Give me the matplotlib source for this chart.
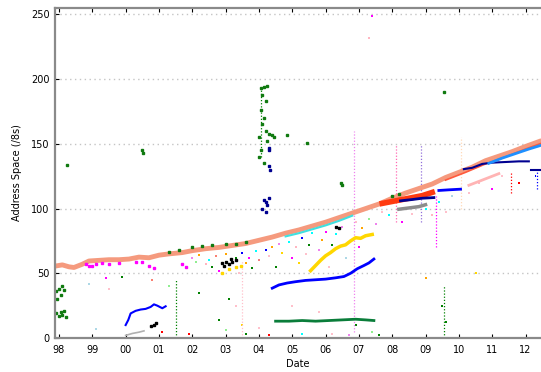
import matplotlib
matplotlib.use("Agg")
import matplotlib.pyplot as plt

# main salmon envelope (top of the cloud)
band_yr = [1997.87, 1998.1, 1998.3, 1998.45, 1998.7, 1998.9, 1999.2, 1999.5, 1999.8, 2000.1,
           2000.4, 2000.7, 2001.0, 2001.3, 2001.7, 2002.0, 2002.4, 2002.8, 2003.2, 2003.6,
           2004.0, 2004.4, 2004.8, 2005.2, 2005.6, 2006.0, 2006.4, 2006.8, 2007.2, 2007.6,
           2008.0, 2008.4, 2008.8, 2009.2, 2009.6, 2010.0, 2010.4, 2010.8, 2011.2, 2011.6,
           2012.0, 2012.48]
band_val = [55.5, 56.5, 55, 54.5, 57, 59.5, 60, 60.5, 60.5, 61,
            62.5, 62, 64, 65, 66, 67.5, 69, 70, 71.5, 73,
            75.5, 78, 81, 83.5, 86.5, 89.5, 93, 96.5, 100, 103.5,
            108, 112, 115.5, 119, 124, 128, 132, 137, 140.5, 144,
            148, 152.5]

red_yr = [2007.7, 2008.0, 2008.3, 2008.6, 2008.9, 2009.2]
red_val = [104, 105.5, 107, 108.5, 110, 112.5]

core_yr = [2009.6, 2010.2, 2010.8, 2011.4, 2012.0, 2012.48]
core_val = [122, 128, 134.5, 140, 146, 150.5]

cyan_yr = [2004.8, 2005.2, 2005.6, 2006.0, 2006.4, 2006.8]
cyan_val = [78.5, 81, 84, 87, 90.5, 94.5]

navy1_yr = [2008.25, 2008.6, 2008.9, 2009.25]
navy1_val = [106, 107, 108, 108.5]
navy2_yr = [2010.15, 2010.4, 2010.7, 2011.0, 2011.4, 2011.8, 2012.1]
navy2_val = [130.5, 131.5, 134.5, 135.5, 136, 136.5, 136.5]
navy3_yr = [2012.15, 2012.45]
navy3_val = [130, 130]

blue2_yr = [2009.4, 2009.7, 2010.05]
blue2_val = [114, 114.5, 115]

dodger_yr = [2010.9, 2011.3, 2011.7, 2012.1, 2012.48]
dodger_val = [135, 139, 142.5, 146, 149]

gray_yr = [2008.2, 2008.5, 2008.8, 2009.0]
gray_val = [99.5, 100.5, 101.5, 103]

pink_yr = [2010.3, 2010.6, 2010.9, 2011.2]
pink_val = [118, 121, 124, 127]

yel_yr = [2005.55, 2005.7, 2005.85, 2006.0, 2006.15, 2006.3, 2006.45, 2006.6, 2006.75,
          2006.9, 2007.05, 2007.2, 2007.4]
yel_val = [52, 56, 60, 63.5, 66, 69, 71, 72, 75, 77.5, 77, 79, 80]
yel_pts_yr = [2002.9, 2003.1, 2003.3, 2003.45]
yel_pts_val = [50, 53, 55, 56]

blue_yr = [2004.4, 2004.6, 2004.85, 2005.1, 2005.4, 2005.7, 2006.0, 2006.3, 2006.55,
           2006.75, 2006.95, 2007.15, 2007.3, 2007.45]
blue_val = [38.5, 41, 42.5, 43.5, 44.5, 45, 45.5, 46.5, 47.5, 50, 53.5, 56, 58, 61]

glow_yr = [2004.5, 2004.9, 2005.3, 2005.7, 2006.1, 2006.5, 2006.9, 2007.2, 2007.45]
glow_val = [13, 13, 13.5, 13, 13.5, 14, 14.5, 14, 13.5]

eblue_yr = [2000.0, 2000.08, 2000.15, 2000.3, 2000.45, 2000.6, 2000.75, 2000.85, 2000.95,
            2001.1, 2001.2]
eblue_val = [10, 14, 19, 21, 22, 22.5, 24, 26, 25, 23, 24.5]

gray0_yr = [2000.0, 2000.2, 2000.4, 2000.55]
gray0_val = [2, 3.5, 4.5, 5.5]

black_yr = [2000.75, 2000.85, 2000.9, 2002.9, 2003.0, 2003.1, 2003.2, 2003.3, 2002.95,
            2003.15, 2006.3, 2006.4]
black_val = [9, 10, 11.5, 58, 59, 57.5, 58.5, 60, 56, 61, 86, 85]

magenta_yr = [1998.8, 1998.9, 1999.0, 1999.1, 1999.3, 1999.5, 1999.8, 2000.3, 2000.5,
              2000.7, 2000.85, 2001.7, 2001.8]
magenta_val = [57, 56, 55.5, 57, 58, 57.5, 58, 58.5, 59, 56, 54, 57, 55]

green_yr = [1997.9, 1998.0, 1998.1, 1998.15, 1998.05, 1997.95, 1997.9, 1998.0, 1998.1,
            1998.2, 1998.05, 1998.15, 1998.25,
            2001.3, 2001.6, 2002.0, 2002.3, 2002.6, 2003.0, 2003.3, 2003.6,
            2004.05, 2004.15, 2004.25, 2004.1, 2004.2, 2004.05, 2004.15, 2004.1, 2004.2,
            2004.0, 2004.25, 2004.3, 2004.05, 2004.0, 2004.15, 2004.4, 2004.45, 2004.85,
            2005.45, 2000.5, 2000.52, 2006.45, 2006.5, 2009.55, 2008.0, 2008.2]
green_val = [36, 38, 40, 37, 33, 30, 19, 17, 18,
             16, 20, 21, 134,
             66.5, 68, 70, 71, 72, 72.5, 73, 74,
             193, 194, 194.5, 188, 183, 176, 170, 165, 160,
             155, 152, 158, 145, 140, 135, 156.5, 155.5, 157,
             151, 145, 143, 120, 118, 190, 110, 111.5]

navy_pts_yr = [2004.15, 2004.2, 2004.25, 2004.1, 2004.2, 2004.3, 2004.3, 2004.3, 2004.3, 2004.32]
navy_pts_val = [107, 105, 103, 100, 97, 108, 147, 145, 133, 130]

# scattered dots under the envelope
noise_yr = [2002.0, 2002.1, 2002.2, 2002.4, 2002.5, 2002.6, 2002.7, 2002.8, 2003.0, 2003.3,
            2003.4, 2003.5, 2003.6, 2003.7, 2003.8, 2003.9, 2004.0, 2004.2, 2004.3, 2004.4,
            2004.5, 2004.6, 2004.7, 2004.9, 2005.0, 2005.1, 2005.2, 2005.3, 2005.4, 2005.5,
            2005.6, 2005.8, 2005.9, 2006.0, 2006.1, 2006.2, 2006.3, 2006.5, 2006.6, 2006.9,
            2007.0, 2007.1, 2007.3, 2007.5, 2007.7, 2007.9, 2008.3, 2008.6, 2009.0, 2009.2,
            2009.4, 2009.6, 2009.8, 2010.3, 2010.6, 2011.0, 2011.3, 2011.8, 2012.3,
            2001.1, 2001.9, 2002.8, 2003.0, 2003.6, 2003.5, 2004.0, 2004.3, 2005.0, 2005.3,
            2005.8, 2006.2, 2006.7, 2006.9, 2007.4, 2007.6, 2003.1, 2003.3, 2002.2, 2001.3,
            1999.1, 1998.9, 1999.4, 1999.5, 1999.9, 2000.8, 2009.5, 2009.6, 2009.0, 2010.5,
            2007.3, 2007.4]
noise_val = [62, 59, 64, 57, 60, 55, 63, 52, 65, 62,
             50, 66, 58, 62, 54, 67, 60, 68, 63, 70,
             55, 73, 66, 74, 62, 70, 58, 77, 65, 72,
             81, 68, 76, 82, 55, 72, 80, 86, 62, 90,
             70, 85, 92, 88, 97, 95, 90, 96, 100, 95,
             105, 97, 110, 112, 120, 115, 125, 120, 125,
             5, 3, 14, 6, 3, 10, 8, 2, 25, 3,
             20, 3, 2, 10, 5, 2, 30, 25, 35, 40,
             7, 42, 46, 38, 47, 45, 25, 12, 46, 50,
             232, 249]
noise_col = ['violet', 'lightgreen', 'orange', 'lightpink', 'cyan', 'green', 'salmon', 'magenta', 'orange', 'green',
             'pink', 'blue', 'orange', 'magenta', 'green', 'cyan', 'lightcoral', 'blue', 'pink', 'orange',
             'green', 'violet', 'gold', 'cyan', 'magenta', 'lightpink', 'gold', 'blue', 'pink', 'green',
             'cyan', 'violet', 'orange', 'magenta', 'pink', 'green', 'cyan', 'violet', 'lightblue', 'pink',
             'magenta', 'orange', 'lightgreen', 'violet', 'pink', 'cyan', 'magenta', 'pink', 'cyan', 'lightpink',
             'cyan', 'pink', 'lightblue', 'pink', 'lightpink', 'magenta', 'pink', 'red', 'blue',
             'red', 'red', 'green', 'lightgreen', 'green', 'gold', 'pink', 'red', 'pink', 'cyan',
             'pink', 'pink', 'violet', 'green', 'lightgreen', 'green', 'green', 'pink', 'green', 'lightgreen',
             'lightblue', 'lightblue', 'magenta', 'pink', 'green', 'salmon', 'green', 'green', 'orange', 'gold',
             'lightpink', 'magenta']

# dotted vertical streaks: year, low, high, colour
streak_yr = [2001.5, 2003.5, 2006.85, 2008.1, 2008.85, 2009.3, 2009.55, 2010.05, 2011.55, 2012.35, 2004.05]
streak_lo = [0, 0, 5, 90, 90, 70, 0, 100, 112, 115, 140]
streak_hi = [45, 60, 160, 150, 150, 110, 40, 155, 128, 130, 195]
streak_col = ['green', 'pink', 'violet', 'hotpink', 'mediumpurple', 'magenta', 'green',
              'peachpuff', 'red', 'blue', 'green']

year_ticks = list(range(1998, 2013))
year_labels = [f"{y % 100:02d}" for y in year_ticks]

fig = plt.figure(figsize=(5.41, 3.72), dpi=100)
ax = fig.add_axes([55 / 541, 34 / 372, 486 / 541, 330 / 372])

ax.vlines(streak_yr, streak_lo, streak_hi, colors=streak_col, linestyles=(0, (1, 1.5)), linewidth=0.9)

ax.plot(band_yr, band_val, color='#f59a7e', lw=3.5, solid_capstyle='butt')
ax.plot(core_yr, core_val, color='#ff5a3c', lw=1.2)
ax.plot(cyan_yr, cyan_val, color='#40e0e0', lw=1.5)
ax.plot(red_yr, red_val, color='#ff3a10', lw=4)
ax.plot(navy1_yr, navy1_val, color='#000090', lw=2)
ax.plot(navy2_yr, navy2_val, color='#000090', lw=1.5)
ax.plot(navy3_yr, navy3_val, color='#000090', lw=1.5)
ax.plot(blue2_yr, blue2_val, color='#0000ff', lw=2)
ax.plot(dodger_yr, dodger_val, color='#1e90ff', lw=2)
ax.plot(gray_yr, gray_val, color='#8c8c8c', lw=2.5)
ax.plot(pink_yr, pink_val, color='#ffb4b4', lw=2)
ax.plot(yel_yr, yel_val, color='#ffd700', lw=2.5)
ax.plot(yel_pts_yr, yel_pts_val, 's', color='#ffd700', ms=2)
ax.plot(blue_yr, blue_val, color='#0000ff', lw=2)
ax.plot(glow_yr, glow_val, color='#0a7d3a', lw=2)
ax.plot(eblue_yr, eblue_val, color='#0000ff', lw=1.5)
ax.plot(gray0_yr, gray0_val, color='#b0b0b0', lw=1.2)
ax.plot(black_yr, black_val, 's', color='black', ms=1.8)
ax.plot(magenta_yr, magenta_val, 's', color='magenta', ms=2)
ax.plot(green_yr, green_val, 's', color='#107a10', ms=1.8)
ax.plot(navy_pts_yr, navy_pts_val, 's', color='#000090', ms=1.8)
ax.scatter(noise_yr, noise_val, c=noise_col, s=2, marker='s', linewidths=0)

ax.set_xlim(1997.88, 2012.465)
ax.set_ylim(0, 255)
ax.set_xticks(year_ticks)
ax.set_xticklabels(year_labels)
ax.set_yticks([0, 50, 100, 150, 200, 250])
ax.yaxis.grid(True, color='#c4c4c4', linestyle=(0, (1, 2.5)), linewidth=1)
ax.set_axisbelow(True)

for side in ['left', 'bottom', 'top']:
    ax.spines[side].set_color('#8a8a8a')
    ax.spines[side].set_linewidth(1.6)
ax.spines['right'].set_visible(False)
ax.tick_params(axis='x', direction='in', length=3, top=True, labelsize=7, pad=5, color='black')
ax.tick_params(axis='y', direction='in', length=3, labelsize=7, pad=4, color='black')

ax.set_xlabel('Date', fontsize=7, labelpad=3)
ax.set_ylabel('Address Space (/8s)', fontsize=7, labelpad=6)

fig.savefig('out.png', dpi=100)
